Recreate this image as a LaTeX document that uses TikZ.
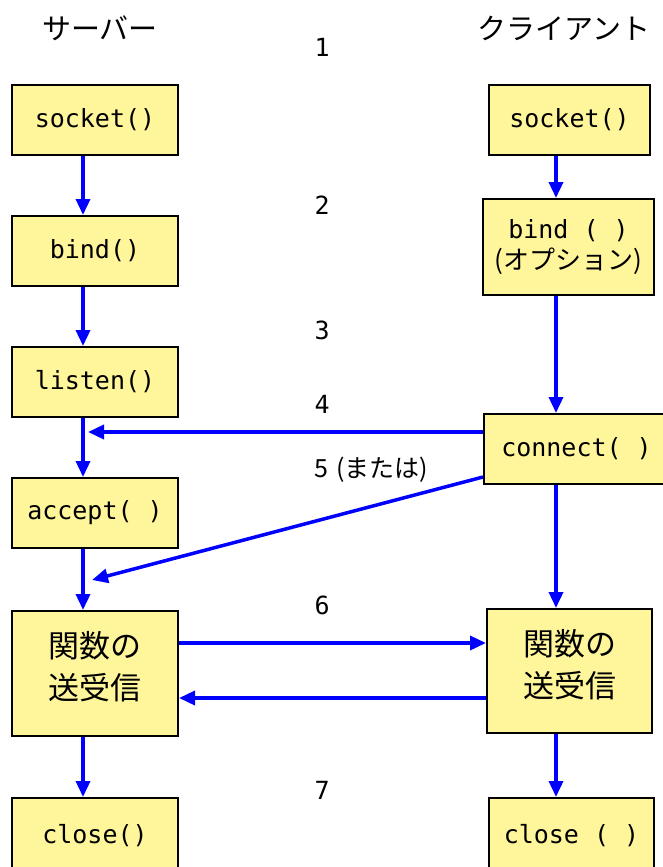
\documentclass[tikz,border=0pt]{standalone}
\usepackage{fontspec}
\newfontfamily\jp{Noto Sans CJK JP}
\newfontfamily\mono{DejaVu Sans Mono}
\usetikzlibrary{arrows.meta,calc}
\definecolor{boxfill}{RGB}{255,246,155}
\definecolor{arrowblue}{RGB}{0,0,255}
\begin{document}
\begin{tikzpicture}[x=1pt,y=-1pt,
  box/.style={draw=black,line width=2pt,fill=boxfill,inner sep=0pt,anchor=north west,align=center},
  flow/.style={draw=arrowblue,line width=3.5pt,-{Triangle[length=16pt,width=14pt]}},
  mt/.style={font=\mono\fontsize{25}{30}\selectfont},
  jt/.style={font=\jp\fontsize{30}{40}\selectfont},
  num/.style={font=\mono\fontsize{25}{30}\selectfont,anchor=west}]
\useasboundingbox[fill=white] (0,0) rectangle (662,867);
% column lines
\coordinate (colL) at (83,0);
\coordinate (colR) at (556,0);
% headings
\node[jt,font=\jp\fontsize{29}{34}\selectfont] (hs) at (100,28) {サーバー};
\node[jt,font=\jp\fontsize{29}{34}\selectfont] (hc) at (564,28) {クライアント};
% step numbers
\node[num] (n1) at (311,47) {1};
\node[num] (n2) at (311,205) {2};
\node[num] (n3) at (311,330) {3};
\node[num] (n4) at (311,404) {4};
\node[num,font=\jp\fontsize{25}{30}\selectfont] (n5) at (311,470) {5\hspace{8pt}(または)};
\node[num] (n6) at (311,605) {6};
\node[num] (n7) at (311,790) {7};
% server boxes
\node[box,mt,minimum width=166pt,minimum height=70pt] (s1) at (11,84) {socket()};
\node[box,mt,minimum width=166pt,minimum height=70pt] (b1) at (11,215) {bind()};
\node[box,mt,minimum width=166pt,minimum height=70pt] (l1) at (11,346) {listen()};
\node[box,mt,minimum width=166pt,minimum height=70pt] (a1) at (11,477) {accept( )};
\node[box,jt,font=\jp\fontsize{31}{42}\selectfont,minimum width=166pt,minimum height=125pt] (f1) at (11,610) {関数の\\送受信\vphantom{Ag}\\[-26pt]};
\node[box,mt,minimum width=166pt,minimum height=76pt] (c1) at (11,797) {close()};
% client boxes
\node[box,mt,minimum width=161pt,minimum height=70pt] (s2) at (488,84) {socket()};
\node[box,minimum width=171pt,minimum height=96pt] (b2) at (482,198) {{\mono\fontsize{25}{30}\selectfont bind ( )}\\[6pt]{\jp\fontsize{26}{30}\selectfont (オプション)}};
\node[box,mt,minimum width=185pt,minimum height=70pt] (k2) at (483,413) {connect( )};
\node[box,jt,font=\jp\fontsize{31}{42}\selectfont,minimum width=165pt,minimum height=124pt] (f2) at (486,608) {関数の\\送受信\vphantom{Ag}\\[-26pt]};
\node[box,mt,minimum width=165pt,minimum height=76pt] (c2) at (488,797) {close ( )};
% server flow
\draw[flow] (s1.south -| colL) -- (b1.north -| colL);
\draw[flow] (b1.south -| colL) -- (l1.north -| colL);
\draw[flow] (l1.south -| colL) -- (a1.north -| colL);
\draw[flow] (a1.south -| colL) -- (f1.north -| colL);
\draw[flow] (f1.south -| colL) -- (c1.north -| colL);
% client flow
\draw[flow] (s2.south -| colR) -- (b2.north -| colR);
\draw[flow] (b2.south -| colR) -- (k2.north -| colR);
\draw[flow] (k2.south -| colR) -- (f2.north -| colR);
\draw[flow] (f2.south -| colR) -- (c2.north -| colR);
% cross arrows
\coordinate (a4) at (88,432);
\coordinate (a5) at (92,580);
\draw[flow] (k2.west |- a4) -- (a4);
\draw[flow] ($(k2.south west)+(0,-8)$) -- (a5);
\coordinate (u6) at (0,643);
\coordinate (d6) at (0,698);
\draw[flow] (f1.east |- u6) -- (f2.west |- u6);
\draw[flow] (f2.west |- d6) -- (f1.east |- d6);
\end{tikzpicture}
\end{document}
